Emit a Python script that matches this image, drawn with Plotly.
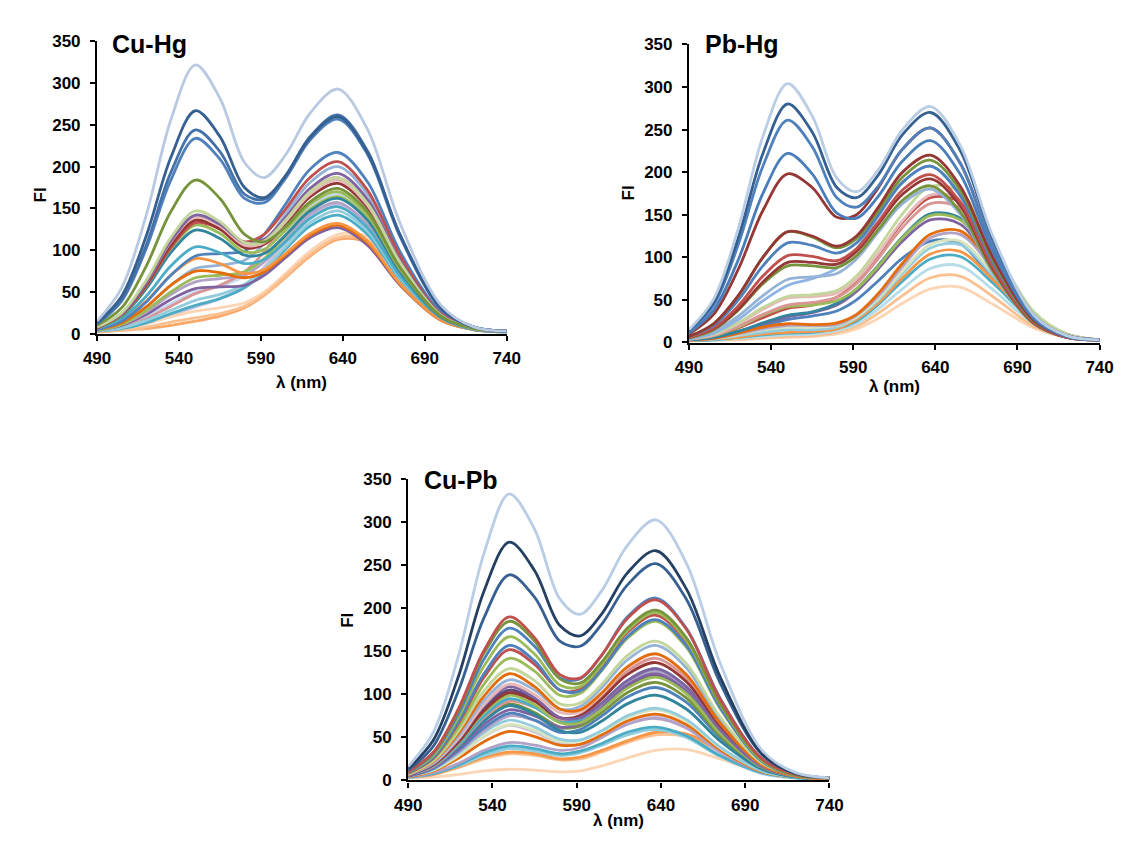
import plotly.graph_objects as go

WAVELENGTH = [490, 505, 520, 535, 550, 565, 580, 592, 605, 620, 637, 655, 675, 700, 720, 740]

X_TICKS = [490, 540, 590, 640, 690, 740]
Y_TICKS = [0, 50, 100, 150, 200, 250, 300, 350]

PANEL_TITLES = ["Cu-Hg", "Pb-Hg", "Cu-Pb"]
X_TITLE = "λ (nm)"
Y_TITLE = "FI"

# ---------------- Cu-Hg ----------------
CU_HG_FI = [
    [15, 55, 142, 256, 322, 282, 205, 187, 214, 264, 293, 245, 132, 34, 8, 3],
    [13, 45, 117, 211, 267, 236, 175, 163, 189, 235, 260, 217, 118, 30, 8, 3],
    [12, 41, 106, 193, 244, 218, 167, 161, 189, 236, 262, 219, 118, 31, 8, 3],
    [12, 39, 102, 184, 234, 209, 162, 157, 186, 232, 257, 215, 116, 30, 8, 3],
    [10, 31, 81, 146, 184, 162, 119, 110, 128, 158, 174, 146, 79, 21, 6, 3],
    [8, 25, 64, 115, 147, 134, 109, 111, 136, 170, 187, 156, 85, 22, 6, 3],
    [8, 24, 61, 111, 142, 131, 109, 113, 139, 174, 192, 161, 87, 23, 6, 3],
    [8, 24, 61, 110, 140, 129, 106, 109, 134, 167, 184, 154, 84, 22, 6, 3],
    [7, 23, 59, 106, 136, 125, 103, 107, 131, 164, 180, 151, 82, 22, 6, 3],
    [7, 23, 57, 103, 133, 126, 110, 119, 149, 187, 206, 172, 93, 24, 7, 3],
    [7, 22, 57, 102, 130, 120, 98, 101, 124, 155, 170, 142, 77, 21, 6, 3],
    [7, 21, 54, 97, 124, 114, 94, 96, 118, 147, 162, 136, 74, 20, 6, 3],
    [6, 18, 45, 81, 104, 97, 84, 89, 110, 138, 152, 127, 69, 19, 5, 3],
    [5, 15, 38, 70, 93, 96, 99, 119, 155, 197, 217, 182, 98, 26, 7, 3],
    [6, 16, 39, 70, 90, 84, 72, 77, 96, 120, 132, 111, 60, 16, 5, 3],
    [5, 13, 32, 58, 75, 73, 67, 74, 94, 118, 130, 109, 59, 16, 5, 3],
    [4, 11, 28, 50, 67, 70, 74, 90, 117, 149, 164, 137, 75, 20, 6, 3],
    [4, 11, 26, 47, 62, 66, 70, 86, 112, 143, 157, 131, 71, 19, 5, 3],
    [4, 10, 23, 41, 54, 56, 58, 70, 91, 115, 127, 106, 58, 16, 5, 2],
    [5, 13, 32, 58, 78, 82, 88, 108, 143, 181, 200, 167, 91, 24, 6, 3],
    [3, 7, 16, 28, 40, 47, 59, 77, 104, 133, 147, 123, 67, 18, 5, 2],
    [3, 6, 13, 24, 34, 42, 55, 74, 101, 129, 142, 119, 65, 17, 5, 2],
    [3, 4, 8, 14, 19, 24, 33, 47, 69, 95, 115, 112, 72, 24, 7, 3],
    [2, 4, 6, 10, 15, 21, 31, 46, 67, 93, 113, 109, 71, 23, 7, 3],
    [3, 6, 12, 20, 27, 31, 37, 50, 72, 99, 119, 116, 75, 24, 7, 3],
    [4, 8, 18, 33, 48, 58, 74, 98, 133, 170, 187, 157, 85, 22, 6, 3],
    [4, 9, 20, 36, 50, 57, 69, 89, 119, 151, 167, 140, 76, 20, 6, 3],
    [3, 6, 12, 22, 32, 42, 58, 80, 109, 140, 154, 129, 70, 19, 5, 3],
]
CU_HG_COLORS = [
    "#B9C9E1", "#376092", "#4472A8", "#4F81BD", "#77933C", "#C3D69B", "#8064A2",
    "#E6B9B8", "#953735", "#C0504D", "#9BBB59", "#31859C", "#4BACC6", "#4F81BD",
    "#F79646", "#E46C0A", "#9BBB59", "#B3A2C7", "#8064A2", "#95B3D7", "#93CDDD",
    "#4BACC6", "#FAC090", "#F9A86A", "#FCD5B5", "#D99694", "#C6D9F1", "#CCC1DA",
]

# ---------------- Pb-Hg ----------------
PB_HG_FI = [
    [15, 51, 134, 242, 304, 266, 193, 177, 202, 250, 277, 232, 125, 32, 8, 3],
    [14, 47, 123, 222, 280, 247, 182, 170, 196, 244, 270, 226, 122, 32, 8, 3],
    [13, 44, 115, 207, 261, 230, 170, 159, 183, 227, 252, 211, 114, 30, 8, 3],
    [11, 38, 97, 175, 222, 198, 152, 146, 171, 213, 237, 198, 107, 28, 7, 3],
    [10, 33, 86, 155, 198, 182, 147, 150, 181, 227, 252, 211, 114, 30, 8, 3],
    [7, 22, 55, 100, 130, 125, 113, 125, 158, 200, 220, 184, 100, 26, 7, 3],
    [7, 22, 55, 100, 130, 124, 111, 122, 154, 194, 214, 179, 97, 25, 7, 3],
    [7, 20, 50, 90, 117, 114, 105, 117, 149, 188, 207, 173, 94, 25, 7, 3],
    [6, 17, 43, 78, 102, 101, 96, 110, 141, 179, 197, 165, 89, 23, 6, 3],
    [6, 16, 39, 71, 94, 94, 92, 107, 138, 174, 192, 161, 87, 23, 6, 3],
    [5, 15, 38, 69, 90, 90, 88, 102, 132, 167, 184, 154, 84, 22, 6, 3],
    [5, 13, 31, 55, 74, 77, 81, 98, 129, 163, 180, 151, 82, 22, 6, 3],
    [4, 11, 27, 49, 67, 75, 87, 110, 147, 188, 207, 173, 94, 25, 7, 3],
    [4, 10, 23, 41, 54, 56, 61, 78, 110, 151, 183, 177, 114, 36, 10, 3],
    [4, 9, 22, 39, 52, 54, 58, 74, 104, 143, 173, 168, 108, 35, 10, 3],
    [4, 8, 19, 33, 44, 47, 53, 69, 98, 135, 163, 158, 102, 33, 9, 3],
    [4, 8, 18, 32, 42, 44, 49, 63, 89, 123, 149, 144, 93, 30, 9, 3],
    [3, 6, 13, 23, 32, 36, 46, 63, 90, 124, 151, 146, 94, 30, 9, 3],
    [3, 6, 13, 22, 30, 35, 44, 60, 86, 119, 144, 139, 90, 29, 8, 3],
    [3, 5, 11, 18, 22, 21, 23, 33, 57, 93, 127, 131, 91, 32, 9, 3],
    [3, 5, 10, 16, 20, 20, 21, 32, 54, 89, 123, 127, 87, 31, 9, 3],
    [3, 5, 9, 15, 18, 18, 20, 30, 51, 84, 115, 119, 82, 29, 9, 3],
    [3, 4, 8, 12, 15, 15, 18, 29, 49, 81, 111, 115, 79, 28, 9, 3],
    [2, 4, 6, 10, 12, 13, 16, 27, 46, 76, 104, 107, 74, 26, 8, 3],
    [2, 3, 6, 9, 11, 12, 16, 25, 44, 72, 98, 101, 70, 25, 8, 3],
    [2, 3, 5, 7, 9, 10, 14, 22, 39, 63, 87, 90, 62, 22, 7, 3],
    [2, 3, 4, 6, 7, 8, 12, 19, 34, 55, 76, 78, 54, 19, 6, 3],
    [2, 3, 3, 5, 6, 7, 10, 16, 28, 46, 63, 65, 45, 17, 6, 3],
    [3, 7, 17, 29, 40, 44, 53, 71, 102, 141, 170, 165, 106, 34, 10, 3],
    [3, 6, 12, 20, 27, 31, 37, 50, 72, 99, 119, 116, 75, 24, 7, 3],
]
PB_HG_COLORS = [
    "#B9CDE5", "#376092", "#4F81BD", "#4A7EBB", "#953735", "#953735", "#77933C",
    "#4F81BD", "#C0504D", "#953735", "#77933C", "#95B3D7", "#8EB4E3", "#C3D69B",
    "#E6B9B8", "#D99694", "#9BBB59", "#31859C", "#8064A2", "#E46C0A", "#B3A2C7",
    "#D7E4BD", "#93CDDD", "#F79646", "#4BACC6", "#B7DEE8", "#FAC090", "#FCD5B5",
    "#C0504D", "#4F81BD",
]

# ---------------- Cu-Pb ----------------
CU_PB_FI = [
    [16, 56, 146, 264, 333, 292, 211, 193, 221, 273, 303, 253, 137, 35, 9, 3],
    [14, 47, 122, 220, 277, 244, 180, 168, 194, 241, 267, 223, 121, 31, 8, 3],
    [12, 40, 105, 189, 239, 213, 162, 156, 182, 227, 252, 211, 114, 30, 8, 3],
    [10, 33, 84, 151, 190, 166, 123, 119, 146, 188, 210, 176, 95, 25, 7, 3],
    [10, 32, 82, 148, 185, 162, 118, 113, 138, 177, 198, 166, 90, 24, 6, 3],
    [9, 31, 78, 141, 177, 156, 119, 118, 146, 190, 212, 177, 96, 25, 7, 3],
    [9, 29, 74, 133, 167, 147, 111, 109, 135, 174, 195, 163, 89, 23, 6, 3],
    [9, 27, 69, 124, 157, 139, 105, 104, 129, 167, 187, 157, 85, 22, 6, 3],
    [8, 26, 67, 120, 152, 135, 105, 106, 132, 172, 192, 161, 87, 23, 6, 3],
    [8, 25, 62, 112, 142, 127, 99, 101, 128, 165, 185, 155, 84, 22, 6, 3],
    [7, 23, 58, 104, 130, 116, 89, 90, 112, 145, 162, 136, 74, 20, 6, 3],
    [7, 22, 55, 98, 124, 109, 83, 82, 102, 132, 147, 123, 67, 18, 5, 2],
    [7, 21, 52, 93, 117, 105, 83, 86, 108, 140, 157, 131, 71, 19, 5, 3],
    [7, 20, 49, 88, 112, 100, 79, 80, 101, 131, 147, 123, 67, 18, 5, 2],
    [6, 19, 48, 87, 109, 96, 73, 73, 90, 116, 130, 109, 59, 16, 5, 2],
    [6, 18, 45, 81, 102, 92, 73, 75, 95, 123, 137, 115, 63, 17, 5, 2],
    [6, 18, 44, 79, 99, 88, 67, 67, 83, 107, 120, 101, 55, 15, 5, 2],
    [6, 17, 42, 75, 95, 85, 68, 71, 90, 116, 130, 109, 59, 16, 5, 2],
    [6, 16, 41, 73, 92, 85, 70, 76, 97, 127, 142, 119, 65, 17, 5, 2],
    [6, 16, 39, 69, 87, 77, 58, 56, 69, 89, 99, 83, 46, 13, 4, 2],
    [5, 15, 37, 65, 82, 75, 62, 66, 85, 111, 124, 104, 57, 15, 5, 2],
    [6, 16, 40, 71, 89, 79, 62, 63, 79, 102, 114, 96, 52, 14, 5, 2],
    [5, 14, 35, 61, 78, 70, 56, 59, 75, 97, 108, 91, 50, 14, 4, 2],
    [5, 14, 33, 58, 75, 70, 60, 67, 87, 114, 127, 106, 58, 16, 5, 2],
    [5, 13, 32, 56, 70, 62, 48, 47, 58, 75, 84, 71, 39, 11, 4, 2],
    [5, 12, 29, 52, 65, 58, 45, 46, 57, 73, 82, 69, 38, 11, 4, 2],
    [4, 11, 26, 45, 57, 51, 41, 42, 53, 69, 77, 65, 36, 10, 4, 2],
    [4, 9, 20, 35, 44, 41, 35, 38, 50, 65, 72, 61, 33, 10, 4, 2],
    [4, 8, 18, 32, 40, 37, 31, 34, 43, 56, 62, 52, 29, 9, 3, 2],
    [3, 8, 17, 29, 37, 34, 29, 32, 41, 53, 59, 50, 28, 8, 3, 2],
    [3, 7, 16, 27, 33, 31, 25, 27, 35, 46, 56, 54, 35, 12, 4, 2],
    [3, 7, 15, 25, 31, 29, 24, 25, 33, 44, 53, 51, 34, 12, 4, 2],
    [3, 4, 7, 11, 13, 12, 10, 11, 17, 26, 35, 36, 25, 10, 4, 2],
    [5, 12, 29, 51, 64, 56, 43, 42, 52, 66, 74, 62, 34, 10, 4, 2],
    [6, 19, 47, 84, 105, 93, 70, 69, 85, 109, 122, 102, 56, 15, 5, 2],
]
CU_PB_COLORS = [
    "#B9CDE5", "#254061", "#376092", "#C0504D", "#77933C", "#4F81BD", "#9BBB59",
    "#4F81BD", "#C0504D", "#9BBB59", "#C3D69B", "#E46C0A", "#95B3D7", "#E6B9B8",
    "#8064A2", "#953735", "#9BBB59", "#4BACC6", "#D99694", "#31859C", "#8064A2",
    "#77933C", "#4F81BD", "#B3A2C7", "#93CDDD", "#D7E4BD", "#E46C0A", "#B3A2C7",
    "#4BACC6", "#93CDDD", "#F79646", "#FAC090", "#FCD5B5", "#CCC1DA", "#604A7B",
]

PANELS = [
    (CU_HG_FI, CU_HG_COLORS),
    (PB_HG_FI, PB_HG_COLORS),
    (CU_PB_FI, CU_PB_COLORS),
]

W, H = 1128, 844
# plot-area pixel boxes: (left, right, top, bottom)
BOXES = [(77, 497, 25, 324), (684, 1105, 28, 333), (396, 828, 473, 781)]
TITLE_POS = [(90, 28), (698, 28), (410, 474)]
XT_POS = [(287, 374), (895, 378), (612, 822)]
YT_POS = [(19, 182), (622, 180), (333, 617)]

FONT = "Liberation Sans, Arial, sans-serif"

fig = go.Figure()
for i, (rows, colors) in enumerate(PANELS):
    suffix = "" if i == 0 else str(i + 1)
    for row, col in reversed(list(zip(rows, colors))):
        fig.add_trace(go.Scatter(
            x=WAVELENGTH, y=row, mode="lines",
            line=dict(color=col, width=2.8, shape="spline", smoothing=0.95),
            xaxis="x" + suffix, yaxis="y" + suffix, hoverinfo="skip",
        ))

axis_common = dict(
    showline=True, linecolor="black", linewidth=2.2, mirror=False,
    ticks="outside", ticklen=5, tickwidth=2, tickcolor="black",
    showgrid=False, zeroline=False,
    tickfont=dict(family=FONT, size=17, color="black", weight="bold"),
)

layout = dict(
    width=W, height=H, margin=dict(l=0, r=0, t=0, b=0),
    paper_bgcolor="white", plot_bgcolor="white", showlegend=False,
)
annotations = []
for i, (l, r, t, b) in enumerate(BOXES):
    suffix = "" if i == 0 else str(i + 1)
    layout["xaxis" + suffix] = dict(
        axis_common, domain=[l / W, r / W], range=[490, 740],
        tickvals=X_TICKS, anchor="y" + suffix, ticklabelstandoff=3,
    )
    layout["yaxis" + suffix] = dict(
        axis_common, domain=[1 - b / H, 1 - t / H], range=[0, 350],
        tickvals=Y_TICKS, anchor="x" + suffix, ticklabelstandoff=6,
    )
    tx, ty = TITLE_POS[i]
    annotations.append(dict(
        text=PANEL_TITLES[i], x=tx / W, y=1 - ty / H, xref="paper", yref="paper",
        xanchor="left", yanchor="middle", showarrow=False,
        font=dict(family=FONT, size=25, color="black", weight="bold"),
    ))
    xx, xy = XT_POS[i]
    annotations.append(dict(
        text=X_TITLE, x=xx / W, y=1 - xy / H, xref="paper", yref="paper",
        xanchor="center", yanchor="middle", showarrow=False,
        font=dict(family=FONT, size=17, color="black", weight="bold"),
    ))
    yx, yy = YT_POS[i]
    annotations.append(dict(
        text=Y_TITLE, x=yx / W, y=1 - yy / H, xref="paper", yref="paper",
        xanchor="center", yanchor="middle", showarrow=False, textangle=-90,
        font=dict(family=FONT, size=17, color="black", weight="bold"),
    ))
layout["annotations"] = annotations
fig.update_layout(**layout)

fig.write_html("out.html")
